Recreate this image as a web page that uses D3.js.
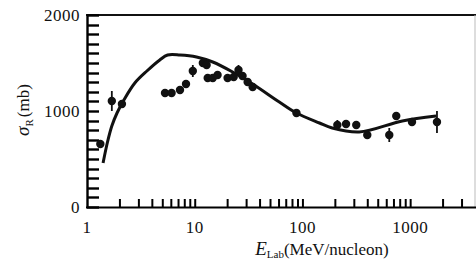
<!DOCTYPE html>
<html>
<head>
<meta charset="utf-8">
<script src="https://cdn.jsdelivr.net/npm/d3@7"></script>
<style>
  body { margin: 0; background: #fff; }
  svg text { font-family: "Liberation Serif", "DejaVu Serif", serif; fill: #111; }
</style>
</head>
<body>
<div id="chart"></div>
<script>
// measured points (MeV/nucleon, mb)
var energies = [1.33, 1.7, 2.11, 5.3, 6.1, 7.3, 8.3, 9.6, 11.9, 12.9, 13.2, 14.7, 16.3, 20.2, 23, 25.5, 27.8, 31, 34.5,
  88, 211, 254, 316, 400, 640, 743, 1040, 1774]
var sigmas = [660, 1104, 1073, 1187, 1187, 1219, 1281, 1417, 1500, 1479, 1344, 1344, 1375, 1344, 1354, 1427, 1365, 1300, 1250,
  979, 854, 865, 854, 750, 750, 948, 885, 885]
var errors = [0, 100, 0, 0, 0, 0, 0, 60, 0, 0, 0, 0, 0, 0, 0, 50, 0, 0, 0,
  0, 50, 40, 40, 0, 70, 0, 0, 115]

// calculated curve
var curveE = [1.41, 1.55, 1.7, 1.9, 2.2, 2.78, 3.6, 4.74, 5.6, 7.3, 10.4, 14.7, 22.5, 34.5, 61, 88, 144, 189, 337, 846, 1739]
var curveSigma = [460, 680, 840, 980, 1110, 1290, 1420, 1535, 1580, 1585, 1562, 1510, 1406, 1280, 1094, 979, 875, 823, 781, 896, 948]

// tick positions
var xMarks = [2, 3, 4, 5, 6, 7, 8, 9, 10, 20, 30, 40, 50, 60, 70, 80, 90, 100,
  200, 300, 400, 500, 600, 700, 800, 900, 1000, 2000, 3000]
var xLabels = [1, 10, 100, 1000]
var yMarks = [0, 100, 200, 300, 400, 500, 600, 700, 800, 900, 1000,
  1100, 1200, 1300, 1400, 1500, 1600, 1700, 1800, 1900, 2000]
var yLabels = [0, 1000, 2000]

var width = 476, height = 259
var svg = d3.select('#chart').append('svg')
  .attr('width', width)
  .attr('height', height)

var x = d3.scaleLog().domain([1, 4000]).range([87, 475])
var y = d3.scaleLinear().domain([0, 2000]).rangeRound([207, 15])

// frame
svg.append('line')
  .attr('x1', 86).attr('x2', 476).attr('y1', y(2000)).attr('y2', y(2000))
  .attr('stroke', '#111').attr('stroke-width', 2)
svg.append('line')
  .attr('x1', x(4000)).attr('x2', x(4000)).attr('y1', y(2000)).attr('y2', y(0))
  .attr('stroke', '#bbb').attr('stroke-width', 1)

// axes with inward ticks
var yAxis = svg.append('g')
  .attr('transform', 'translate(' + x(1) + ',0)')
  .call(d3.axisRight(y).tickValues(yMarks).tickSize(12).tickSizeOuter(0).tickFormat(function() { return '' }))
yAxis.selectAll('path, line').attr('stroke', '#000').attr('stroke-width', 2.4)

var xAxis = svg.append('g')
  .attr('transform', 'translate(0,' + y(0) + ')')
  .call(d3.axisTop(x).tickValues(xMarks).tickSize(8).tickSizeOuter(0).tickFormat(function() { return '' }))
xAxis.selectAll('path, line').attr('stroke', '#000').attr('stroke-width', 2)
xAxis.select('.domain').attr('d', 'M' + (x(1) - 1) + ',0.5H476')

svg.selectAll('.ylab')
  .data(yLabels)
  .enter()
  .append('text')
  .attr('class', 'ylab')
  .attr('x', 80)
  .attr('y', function(d) { return y(d) })
  .attr('dy', '0.35em')
  .attr('text-anchor', 'end')
  .style('font-size', '17px')
  .style('letter-spacing', '0.5px')
  .text(function(d) { return d })

svg.selectAll('.xlab')
  .data(xLabels)
  .enter()
  .append('text')
  .attr('class', 'xlab')
  .attr('x', function(d) { return x(d) })
  .attr('y', 233)
  .attr('text-anchor', 'middle')
  .style('font-size', '17px')
  .style('letter-spacing', '0.5px')
  .text(function(d) { return d })

// axis titles
var xt = svg.append('text')
  .attr('x', 322)
  .attr('y', 255)
  .attr('text-anchor', 'middle')
  .style('font-size', '17px')
xt.append('tspan').style('font-style', 'italic').style('font-size', '19px').text('E')
xt.append('tspan').attr('dy', 3).style('font-size', '11px').text('Lab')
xt.append('tspan').attr('dy', -3).text('(MeV/nucleon)')

var yt = svg.append('text')
  .attr('transform', 'translate(29,110) rotate(-90)')
  .attr('text-anchor', 'middle')
  .style('font-size', '17px')
yt.append('tspan').style('font-style', 'italic').style('font-size', '19px').text('σ')
yt.append('tspan').attr('dy', 4).style('font-size', '11px').text('R')
yt.append('tspan').attr('dy', -4).attr('dx', 2).text('(mb)')

// curve
var line = d3.line()
  .x(function(d) { return x(d[0]) })
  .y(function(d) { return y(d[1]) })
  .curve(d3.curveCatmullRom)
svg.append('path')
  .datum(d3.zip(curveE, curveSigma))
  .attr('d', line)
  .attr('fill', 'none')
  .attr('stroke', '#111')
  .attr('stroke-width', 3)

// data points
var pts = d3.zip(energies, sigmas, errors)
svg.selectAll('.err')
  .data(pts.filter(function(d) { return d[2] > 0 }))
  .enter()
  .append('line')
  .attr('class', 'err')
  .attr('x1', function(d) { return x(d[0]) })
  .attr('x2', function(d) { return x(d[0]) })
  .attr('y1', function(d) { return y(d[1] - d[2]) })
  .attr('y2', function(d) { return y(d[1] + d[2]) })
  .attr('stroke', '#111')
  .attr('stroke-width', 1.8)

svg.selectAll('.pt')
  .data(pts)
  .enter()
  .append('circle')
  .attr('class', 'pt')
  .attr('cx', function(d) { return x(d[0]) })
  .attr('cy', function(d) { return y(d[1]) })
  .attr('r', 4.2)
  .attr('fill', '#111')
</script>
</body>
</html>
